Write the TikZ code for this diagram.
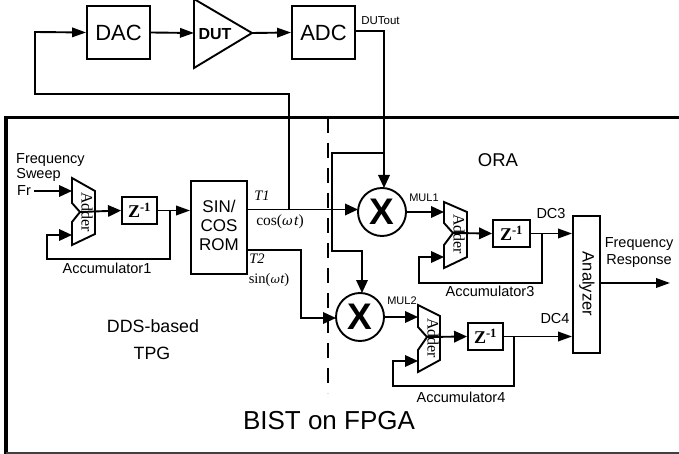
\documentclass[tikz,border=0pt]{standalone}
\usepackage{fontspec}
\setmainfont{Liberation Sans}
\newfontfamily\tms{Liberation Serif}
\newfontfamily\symf{DejaVu Serif}
\usetikzlibrary{arrows.meta,calc}
\newcommand{\fs}[1]{\fontsize{#1}{#1}\selectfont}
\tikzset{
  wire/.style={line width=1.9pt,line join=miter},
  arr/.style={wire,-{Triangle[length=13pt,width=11.5pt]}},
  arrt/.style={wire,-{Triangle[length=14pt,width=9.5pt]}},
  mulc/.style={draw,circle,line width=1.9pt,minimum size=48pt,inner sep=0pt,font=\fs{37}\bfseries},
  lab/.style={inner sep=0pt,font=\fs{14.5}},
  sm/.style={inner sep=0pt,font=\fs{11}},
  ser/.style={inner sep=0pt,font=\tms\fs{14.5}},
  zbox/.style={draw,line width=1.9pt,inner sep=0pt,font=\tms\fs{18}\bfseries},
  addshape/.style={draw,line width=1.9pt,line join=miter},
  addtxt/.style={inner sep=0pt,rotate=-90,font=\tms\fs{16}},
}
\begin{document}
\begin{tikzpicture}[x=1pt,y=-1pt]
\useasboundingbox (0,0) rectangle (679,454);
% BIST frame
\draw[line width=3.2pt] (6,454) -- (6,117.5) -- (679,117.5);
\draw[line width=1.5pt,black!75] (6,453) -- (679,453);
\draw[line width=1.9pt,dash pattern=on 15pt off 10pt] (328,118) -- (328,393);
% top row
\node[zbox,font=\fs{22},minimum width=63pt,minimum height=53pt] (dac) at (118.5,32.5) {DAC};
\node[zbox,font=\fs{22},minimum width=63pt,minimum height=53pt] (adc) at (323.5,32.5) {ADC};
\draw[addshape] (194,-1) -- (252,33) -- (194,68) -- cycle;
\coordinate (dutin) at (194,33);
\coordinate (dutout) at (252,33);
\node[inner sep=0pt,font=\fs{16}\bfseries] (dut) at (215,34) {DUT};
\node[sm,font=\fs{11.5}] (dutoutl) at (380.5,20.5) {DUTout};
% multipliers
\node[mulc] (x1) at (382,212) {X};
\node[mulc] (x2) at (360,317) {X};
% ROM
\node[zbox,minimum width=56pt,minimum height=93pt] (rom) at (219,227.5) {};
\node[inner sep=0pt,font=\fs{17},align=center] (romt) at (219,225) {SIN/\\[2pt]COS\\[2pt]ROM};
% Accumulator 1
\draw[addshape] (72,178) -- (95,191) -- (95,234) -- (72,245) -- (72,222) -- (80,212) -- (72,203) -- cycle;
\coordinate (a1a) at (72,191); \coordinate (a1b) at (72,235); \coordinate (a1o) at (80,212);
\node[addtxt] (a1t) at (87,212) {Adder};
\node[zbox,minimum width=35pt,minimum height=27pt] (z1) at (139.5,210.5) {Z\textsuperscript{-1}};
% Accumulator 3
\draw[addshape] (444,202) -- (467,212) -- (467,257) -- (444,268) -- (444,245) -- (453,233) -- (444,223) -- cycle;
\coordinate (a3a) at (444,212); \coordinate (a3b) at (444,257); \coordinate (a3o) at (453,233);
\node[addtxt] (a3t) at (459,234) {Adder};
\node[zbox,minimum width=37pt,minimum height=27pt] (z3) at (511.5,233.5) {Z\textsuperscript{-1}};
% Accumulator 4
\draw[addshape] (418,305) -- (440,316) -- (440,360) -- (418,372) -- (418,350) -- (427,337) -- (418,327) -- cycle;
\coordinate (a4a) at (418,317); \coordinate (a4b) at (418,361); \coordinate (a4o) at (427,337);
\node[addtxt] (a4t) at (433,338) {Adder};
\node[zbox,minimum width=35pt,minimum height=27pt] (z4) at (485.5,336.5) {Z\textsuperscript{-1}};
% Analyzer
\node[zbox,minimum width=27pt,minimum height=137pt] (an) at (586.5,284.5) {};
\node[inner sep=0pt,rotate=-90,font=\fs{16.5}] (ant) at (587,284) {Analyzer};
% labels
\node[lab] (l1) at (50.5,160) {Frequency};
\node[lab] (l2) at (38.5,175) {Sweep};
\node[lab] (fr) at (24,191) {Fr};
\node[lab] (acc1) at (107,268) {Accumulator1};
\node[lab] (acc3) at (490,291) {Accumulator3};
\node[lab] (acc4) at (461,397) {Accumulator4};
\node[lab] (dc3) at (551,214) {DC3};
\node[lab] (dc4) at (555,319) {DC4};
\node[lab] (fr1) at (639,244) {Frequency};
\node[lab] (fr2) at (639,261) {Response};
\node[sm] (m1) at (424,198) {MUL1};
\node[sm] (m2) at (402,301) {MUL2};
\node[inner sep=0pt,font=\fs{18.5}] (ora) at (498,160) {ORA};
\node[inner sep=0pt,font=\fs{17.8}] (dds) at (153,326) {DDS-based};
\node[inner sep=0pt,font=\fs{17.8}] (tpg) at (152,353) {TPG};
\node[inner sep=0pt,font=\fs{26}] (bist) at (329,421) {BIST on FPGA};
\node[ser] (t1) at (262,196) {\itshape T1};
\node[ser] (t2) at (257,259) {\itshape T2};
\node[ser,font=\tms\fs{15.5}] (cos) at (280,222) {cos({\symf\fontsize{13}{13}\selectfont\itshape ω}\kern1.5pt{\itshape t})};
\node[ser] (sin) at (269,280) {sin({\symf\fontsize{11.5}{11.5}\selectfont\itshape ω}\kern0.5pt{\itshape t})};
% named waypoints
\coordinate (frs) at (34,191);
\coordinate (acc1j) at (170,210.5);
\coordinate (acc3j) at (542,233.5);
\coordinate (acc4j) at (514,336.5);
\coordinate (romt1) at (247,209.5);
\coordinate (romt2) at (247,250);
\coordinate (t1j) at (289,209.5);
\coordinate (x1w) at (358,209.5);
\coordinate (x2w) at (336,318);
\coordinate (x1n) at (384,188);
\coordinate (adco) at (355,31);
\coordinate (adcc) at (384,31);
\coordinate (oraj) at (384,153);
\coordinate (oral) at (332,153);
\coordinate (x2n) at (362,293);
\coordinate (ano) at (600,283);
\coordinate (anf) at (670,283);
% connectors
\draw[arrt] (dac.east) -- (dutin);
\draw[arrt] (dutout) -- (adc.west);
\draw[arrt] (t1j) -- (289,94) -- (35,94) -- (35,32) -- (dac.west);
\draw[arr] (adco) -- (adcc) -- (x1n);
\draw[arr] (oraj) -- (oral) -- (332,251) -- (362,251) -- (x2n);
\draw[arr] (romt1) -- (x1w);
\draw[arr] (romt2) -- (301,250) -- (301,318) -- (x2w);
\draw[arr] (frs) -- (a1a);
\draw[arr] (a1o) -- (z1.west);
\draw[arrt] (z1.east) -- (rom.west |- z1.east);
\draw[arr] (acc1j) -- (170,259) -- (47,259) -- (47,235) -- (a1b);
\draw[arr] (x1.east) -- (a3a);
\draw[arr] (a3o) -- (z3.west);
\draw[arrt] (z3.east) -- (an.west |- z3.east);
\draw[arr] (acc3j) -- (542,283) -- (419,283) -- (419,257) -- (a3b);
\draw[arr] (x2.east) -- (a4a);
\draw[arr] (a4o) -- (z4.west);
\draw[arrt] (z4.east) -- (an.west |- z4.east);
\draw[arr] (acc4j) -- (514,386) -- (393,386) -- (393,361) -- (a4b);
\draw[arrt] (ano) -- (anf);
\end{tikzpicture}
\end{document}
